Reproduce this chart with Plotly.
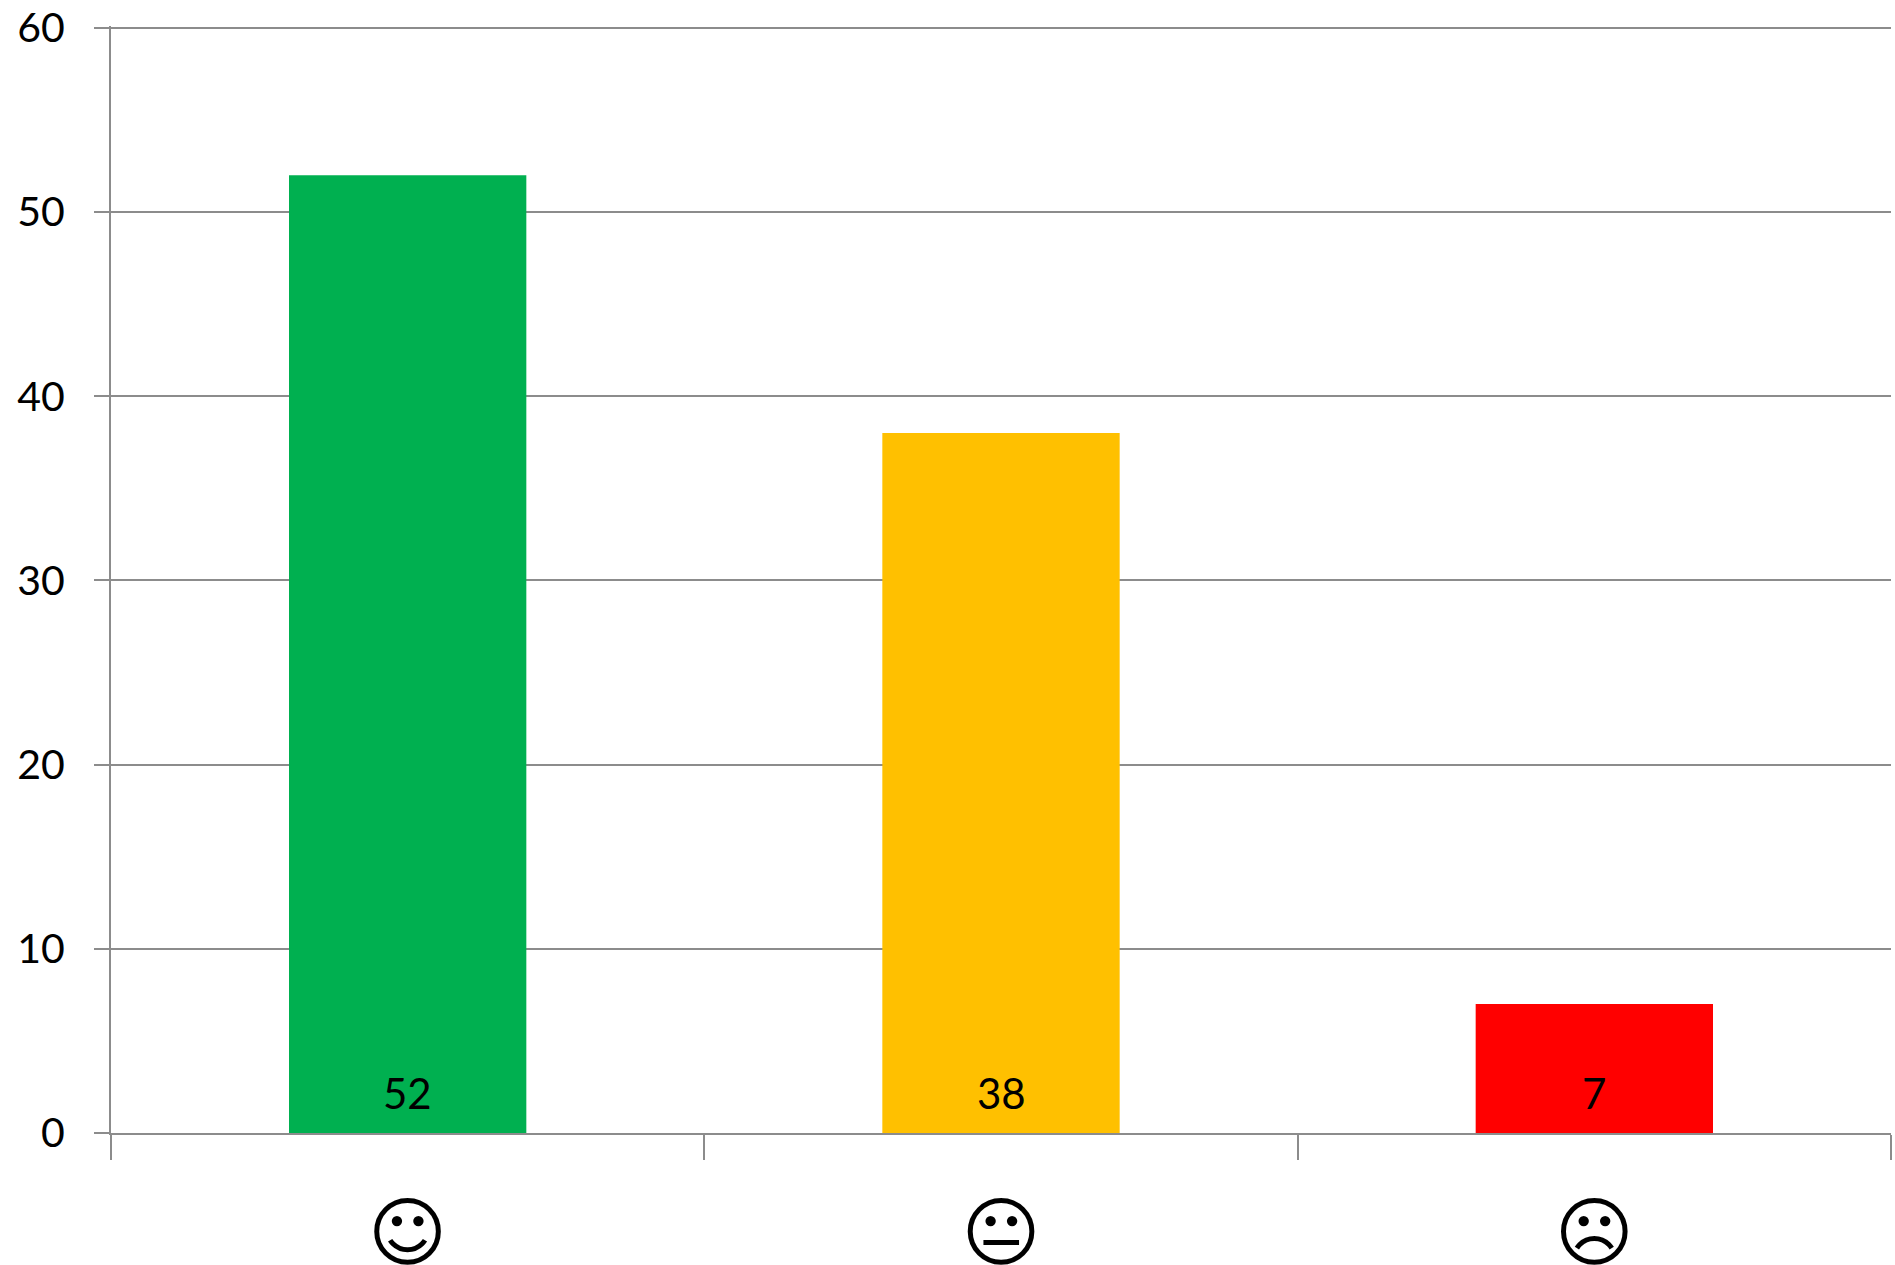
import plotly.graph_objects as go

categories = ["\u263A", "\U0001F610", "\u2639"]
values = [52, 38, 7]
bar_colors = ["#00B050", "#FFC000", "#FF0000"]
y_ticks = [0, 10, 20, 30, 40, 50, 60]
AXIS = "#8C8C8C"
FONT = "Lato, Carlito, sans-serif"

fig = go.Figure(go.Bar(
    x=categories, y=values, marker=dict(color=bar_colors, line=dict(width=0)),
    hoverinfo="skip",
))
for c, v in zip(categories, values):
    fig.add_annotation(x=c, y=0, yshift=40, text=str(v), showarrow=False,
                       font=dict(family=FONT, size=42, color="black"))
fig.update_layout(
    width=1895, height=1265, autosize=False,
    margin=dict(l=111, r=4, t=26, b=132, autoexpand=False),
    paper_bgcolor="white", plot_bgcolor="white", showlegend=False, bargap=0.6,
    xaxis=dict(type="category", categoryorder="array", categoryarray=categories,
               tickson="boundaries", ticks="outside", ticklen=25, tickwidth=2, tickcolor=AXIS,
               showline=True, linecolor=AXIS, linewidth=2, showgrid=False, zeroline=False,
               ticklabelstandoff=33, automargin=False,
               tickfont=dict(family="DejaVu Sans", size=76, color="black", weight="bold")),
    yaxis=dict(range=[0, 60.1], tickvals=y_ticks, ticks="outside", ticklen=15, tickwidth=2, tickcolor=AXIS,
               showline=True, linecolor=AXIS, linewidth=2, showgrid=True, gridcolor=AXIS, gridwidth=2,
               zeroline=False, ticklabelstandoff=21, automargin=False,
               tickfont=dict(family=FONT, size=41, color="black")),
)
fig.write_html("out.html", config={"displayModeBar": False},
               post_script="document.body.style.margin='0';document.body.style.overflow='hidden';")
